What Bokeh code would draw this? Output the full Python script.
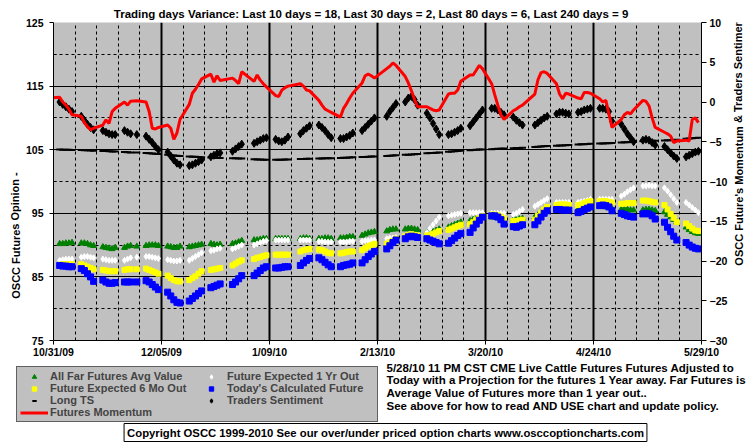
import pandas as pd
from bokeh.plotting import figure
from bokeh.layouts import column, row
from bokeh.models import (Range1d, LinearAxis, FixedTicker, Grid, Legend,
                          LegendItem, Label)
from bokeh.embed import file_html
from bokeh.resources import INLINE

FONT = "Liberation Sans"
NAN = float("nan")

title_text = ("Trading days Variance:  Last 10 days = 18,  Last 30 days = 2,  "
              "Last 80 days = 6,  Last 240 days = 9")
left_title = "OSCC Futures Opinion -"
right_title = "OSCC Future's Momentum & Traders Sentiment -"
note_lines = [
    "5/28/10 11 PM CST CME Live Cattle Futures  Futures Adjusted to",
    "Today with a Projection for the futures 1 Year away. Far Futures is",
    "Average Value of Futures more than 1 year out..",
    "See above for how to read AND USE chart and update policy.",
]
copyright_text = ("Copyright OSCC 1999-2010 See our over/under priced option charts "
                  "www.osccoptioncharts.com")

x_tick_labels = ["10/31/09", "12/05/09", "1/09/10", "2/13/10", "3/20/10", "4/24/10", "5/29/10"]
left_ticks = [75, 85, 95, 105, 115, 125]
left_minor = [80, 90, 100, 110, 120]
right_ticks = [-30, -25, -20, -15, -10, -5, 0, 5, 10]

first_day = "2009-10-30"
holidays = ["2009-11-26", "2009-12-25", "2010-01-01", "2010-01-18", "2010-02-15", "2010-04-02"]

# Futures Momentum (right axis), from 10/30/09
momentum = [0.5,
    0.6, 0.0, -0.4, -0.9, -1.6,
    -1.8, -2.6, -3.1, -3.5, -3.3,
    -2.9, -2.25, -2.7, -1.2, -0.8,
    0.0, -0.4, 0.1, 0.15,
    0.0, -1.2, -3.3, -3.4, -3.2,
    -2.9, -3.3, -4.7, -3.9, -2.2,
    -0.3, 1.1, 1.6, 2.2, 2.9,
    3.5, 2.5, 3.3, 2.7,
    3.0, 2.7, 2.3, 3.8,
    2.6, 3.4, 2.75, 2.3, 1.9,
    0.8, 0.7, 1.5, 1.8, 2.0,
    2.3, 2.0, 1.5, 1.4,
    0.2, -0.4, -0.9, -1.1, -1.3,
    -1.9, -0.8, -0.2, 0.5, 1.1,
    2.4, 3.3, 3.5, 3.3, 3.0,
    4.2, 4.5, 4.9, 4.6,
    3.2, 2.4, 1.4, 0.3, -0.6,
    -0.6, -0.8, -1.0, -1.1, -1.0,
    1.0, 1.1, 1.1, 1.5, 2.6,
    3.4, 3.4, 4.0, 4.6, 4.2,
    2.3, 0.9, -0.4, -1.6, -2.2,
    -1.1, -0.9, -0.6, -0.4,
    1.0, 2.8, 3.7, 3.8, 3.6,
    2.3, 1.0, 0.4, 1.1, 1.0,
    0.5, 0.4, 1.2, 1.2, 1.1,
    0.4, 0.0, 0.2, -1.5, -3.2,
    -2.2, -1.6, -1.3, -1.5, -1.0,
    0.2, 0.1, -0.5, -2.0, -3.2,
    -3.8, -4.0, -4.3, -5.1, -4.9,
    -4.8, -4.9, -2.2, -2.0, -2.6]

# Traders Sentiment (right axis), from 11/02/09
traders = [
    0.0, -0.3, -0.6, -0.9, -1.2,
    -1.8, -2.3, -2.8, -3.2, -3.5,
    -3.6, -3.8, -4.0, -4.1, -4.1,
    -3.6, -3.8, -4.0, -4.1,
    -4.3, -4.7, -5.1, -5.6, -6.0,
    -6.3, -6.8, -7.3, -7.7, -7.9,
    -8.0, -7.9, -7.7, -7.5, -7.3,
    -6.9, -6.7, -6.5, -6.4,
    -6.2, -5.9, -5.6, -5.3,
    -5.2, -5.0, -4.8, -4.6, -4.5,
    -4.7, -4.9, -5.0, -4.8, -4.4,
    -4.0, -3.6, -3.3, -3.0,
    -2.9, -3.2, -3.6, -4.1, -4.5,
    -4.6, -4.6, -4.4, -4.2, -3.9,
    -3.6, -3.2, -2.8, -2.4, -2.0,
    -1.8, -1.2, -0.7, -0.2,
    0.0, 0.5, 0.7, 0.3, -0.4,
    -1.4, -2.0, -2.7, -3.4, -4.1,
    -4.1, -4.0, -3.8, -3.6, -3.3,
    -3.0, -2.5, -2.0, -1.5, -1.0,
    -0.8, -0.8, -1.0, -1.3, -1.6,
    -1.9, -2.3, -2.6, -2.9,
    -2.9, -2.6, -2.3, -2.0, -1.8,
    -1.5, -1.3, -1.3, -1.4, -1.5,
    -1.3, -1.2, -1.0, -0.9, -0.8,
    -0.8, -0.8, -0.9, -1.2, -2.4,
    -2.8, -3.4, -4.0, -4.5, -5.0,
    -4.8, -4.7, -4.8, -5.1, -5.4,
    -5.6, -6.0, -6.4, -6.8, -7.1,
    -6.9, -6.7, -6.5, -6.3, -6.2]

# Long TS (right axis)
long_ts = [
    -5.98, -6.0, -6.0, -6.02, -6.03,
    -6.05, -6.07, -6.08, -6.1, -6.12,
    -6.15, -6.17, -6.2, -6.22, -6.24,
    -6.3, -6.32, -6.34, -6.36,
    -6.42, -6.45, -6.48, -6.5, -6.53,
    -6.65, -6.7, -6.73, -6.76, -6.8,
    -6.85, -6.88, -6.9, -6.92, -6.94,
    -6.97, -7.0, -7.02, -7.04,
    -7.06, -7.08, -7.1, -7.12,
    -7.2, -7.22, -7.24, -7.26, -7.27,
    -7.27, -7.26, -7.25, -7.24, -7.23,
    -7.18, -7.16, -7.15, -7.14,
    -7.12, -7.1, -7.09, -7.08, -7.06,
    -7.03, -7.01, -7.0, -6.98, -6.96,
    -6.93, -6.91, -6.89, -6.87, -6.85,
    -6.8, -6.77, -6.74, -6.71,
    -6.65, -6.62, -6.6, -6.57, -6.54,
    -6.46, -6.43, -6.4, -6.37, -6.34,
    -6.26, -6.23, -6.2, -6.17, -6.14,
    -6.06, -6.03, -6.0, -5.98, -5.96,
    -5.93, -5.91, -5.89, -5.87, -5.85,
    -5.82, -5.8, -5.78, -5.76,
    -5.66, -5.63, -5.6, -5.57, -5.54,
    -5.5, -5.48, -5.46, -5.44, -5.42,
    -5.34, -5.32, -5.3, -5.28, -5.26,
    -5.22, -5.21, -5.2, -5.19, -5.17,
    -5.09, -5.07, -5.05, -5.03, -5.01,
    -4.94, -4.92, -4.9, -4.88, -4.86,
    -4.83, -4.81, -4.8, -4.78, -4.76,
    -4.62, -4.58, -4.55, -4.52, -4.49]

# All Far Futures Avg Value (left axis)
far_avg = [
    90.2, 90.2, 90.3, 90.3, 90.4,
    90.3, 90.3, 90.2, 90.0, 89.9,
    89.7, 89.6, 89.5, 89.4, 89.6,
    89.6, 89.8, 89.9, 89.8,
    89.9, 90.0, 90.0, 90.0, 89.9,
    89.8, 89.7, 89.6, 89.6, 89.8,
    89.7, 89.8, 89.9, 90.0, 90.1,
    90.2, 90.1, 90.0, 90.1,
    90.2, 90.3, 90.5, 90.7,
    90.8, 90.8, 90.9, 91.0, 91.0,
    91.0, 91.0, 91.0, 91.0, 91.0,
    91.0, 91.1, 91.1, 91.0,
    91.0, 91.0, 91.1, 91.1, 91.0,
    91.1, 91.1, 91.2, 91.3, 91.3,
    91.5, 91.7, 91.9, 92.0, 92.1,
    92.2, 92.4, 92.5, 92.5,
    92.5, 92.6, 92.6, 92.5, 92.4,
    92.0, 92.0, 92.1, 92.3, 92.5,
    92.8, 93.0, 93.2, 93.4, 93.6,
    93.8, 94.0, 94.2, 94.3, 94.4,
    94.4, 94.4, 94.3, 94.2, 94.0,
    94.0, 94.0, 94.1, 94.2,
    94.4, 94.7, 95.0, 95.3, 95.5,
    95.6, 95.6, 95.6, 95.6, 95.6,
    95.6, 95.7, 95.8, 95.9, 96.0,
    96.1, 96.1, 96.0, 95.9, 95.7,
    95.6, 95.6, 95.6, 95.5, 95.5,
    95.5, 95.6, 95.6, 95.5, 95.4,
    95.2, 94.8, 94.4, 94.0, 93.6,
    92.8, 92.4, 92.1, 91.9, 91.8]

# Future Expected 1 Yr Out (left axis)
one_yr = [
    87.6, 87.7, 87.8, 87.8, 87.8,
    88.1, 88.2, 88.2, 88.1, 88.0,
    87.8, 87.7, 87.6, 87.6, 87.6,
    87.6, 87.8, 88.0, 88.1,
    88.2, 88.2, 88.1, 88.0, 87.9,
    87.7, 87.6, 87.5, 87.5, 87.6,
    87.6, 87.9, 88.2, 88.5, 88.8,
    89.1, 89.2, 89.4, 89.5,
    89.4, 89.6, 89.8, 90.0,
    90.0, 90.2, 90.4, 90.6, 90.7,
    90.8, 90.8, 90.8, 90.8, 90.8,
    90.8, 90.8, 90.8, 90.8,
    90.6, 90.6, 90.5, 90.5, 90.5,
    90.5, 90.5, 90.5, 90.6, 90.6,
    90.6, 90.7, 90.7, 90.8, 90.8,
    91.0, 91.1, 91.1, 91.2,
    91.2, 91.2, 91.3, 91.3, 91.3,
    92.0, 92.6, 93.2, 93.8, 94.4,
    94.6, 94.7, 94.8, 94.9, 95.0,
    95.1, 95.1, 95.1, 95.1, 95.1,
    95.0, 95.0, 95.0, 95.0, 95.0,
    94.8, 95.0, 95.3, 95.6,
    96.1, 96.4, 96.7, 97.0, 97.3,
    96.7, 96.7, 96.7, 96.7, 96.7,
    96.7, 96.8, 96.9, 97.0, 97.2,
    97.2, 97.2, 97.2, 97.2, 97.2,
    97.7, 98.0, 98.4, 98.7, 99.0,
    99.3, 99.3, 99.4, 99.3, 99.3,
    99.0, 98.5, 97.9, 97.3, 96.7,
    96.7, 96.3, 95.9, 95.5, 95.1]

# Future Expected 6 Mo Out (left axis)
six_mo = [
    86.9, 87.0, 87.0, 87.0, 87.0,
    87.0, 86.8, 86.6, 86.4, 86.2,
    86.1, 86.0, 85.9, 85.9, 85.9,
    86.1, 86.2, 86.2, 86.2,
    86.3, 86.1, 85.9, 85.7, 85.5,
    85.2, 84.8, 84.5, 84.3, 84.3,
    84.5, 84.8, 85.1, 85.5, 85.9,
    86.1, 86.2, 86.3, 86.4,
    86.8, 87.1, 87.4, 87.6,
    87.8, 88.0, 88.1, 88.3, 88.4,
    88.5, 88.5, 88.5, 88.5, 88.5,
    89.0, 89.2, 89.3, 89.4,
    89.3, 89.2, 89.0, 88.8, 88.7,
    88.7, 88.8, 88.9, 89.0, 89.0,
    89.2, 89.5, 89.8, 90.0, 90.2,
    90.2, 90.5, 90.7, 91.0,
    91.4, 91.6, 91.7, 91.6, 91.5,
    91.5, 91.6, 91.8, 92.0, 92.2,
    92.4, 92.6, 92.8, 93.0, 93.2,
    93.3, 93.6, 94.0, 94.3, 94.6,
    94.8, 94.8, 94.7, 94.5, 94.2,
    93.8, 93.8, 93.9, 94.0,
    94.0, 94.6, 95.1, 95.6, 96.0,
    96.3, 96.4, 96.4, 96.4, 96.3,
    96.3, 96.4, 96.6, 96.8, 96.9,
    96.9, 96.9, 96.9, 96.8, 96.7,
    96.5, 96.5, 96.6, 96.6, 96.6,
    97.0, 97.0, 96.9, 96.8, 96.7,
    96.3, 95.6, 94.9, 94.3, 93.6,
    93.4, 93.0, 92.6, 92.3, 92.2]

# Today's Calculated Future (left axis)
today_calc = [
    86.8, 86.7, 86.7, 86.6, 86.6,
    86.3, 86.0, 85.5, 85.0, 84.3,
    84.5, 84.2, 84.0, 84.0, 84.1,
    84.2, 84.2, 84.2, 84.2,
    84.4, 84.2, 83.8, 83.4, 83.0,
    82.6, 82.0, 81.4, 81.0, 80.9,
    81.2, 81.6, 82.0, 82.4, 82.8,
    83.3, 83.5, 83.7, 83.9,
    83.8, 84.2, 84.7, 85.2,
    85.2, 85.6, 86.0, 86.4, 86.6,
    86.4, 86.4, 86.5, 86.6, 86.6,
    86.8, 87.2, 87.6, 87.9,
    88.0, 87.7, 87.3, 86.9, 86.6,
    86.6, 86.8, 86.9, 87.0, 87.2,
    87.2, 87.7, 88.2, 88.6, 89.0,
    89.4, 89.9, 90.4, 90.8,
    91.0, 91.3, 91.4, 91.3, 91.2,
    91.0, 90.8, 90.6, 90.4, 90.2,
    90.3, 90.7, 91.1, 91.5, 91.8,
    92.0, 92.7, 93.3, 93.9, 94.4,
    94.6, 94.6, 94.4, 94.0, 93.3,
    92.9, 92.8, 93.0, 93.2,
    93.2, 93.8, 94.4, 95.0, 95.4,
    95.6, 95.6, 95.5, 95.5, 95.5,
    95.1, 95.3, 95.6, 95.8, 96.0,
    96.2, 96.3, 96.2, 96.0, 95.4,
    95.0, 94.8, 94.6, 94.5, 94.4,
    94.9, 95.0, 94.9, 94.6, 94.1,
    93.6, 92.8, 92.1, 91.4, 90.8,
    90.4, 90.0, 89.7, 89.5, 89.4]

# ---------------------------------------------------------------- dates
hol = set(pd.to_datetime(holidays))
session_days = [d for d in pd.bdate_range("2009-11-02", "2010-05-28") if d not in hol]
all_days = [pd.Timestamp(first_day)] + session_days


def pair(days, vals):
    n = min(len(days), len(vals))
    return list(days[:n]), list(vals[:n])


tick_dates = [pd.to_datetime(s, format="%m/%d/%y") for s in x_tick_labels]
to_ms = lambda d: d.value / 1e6
tick_ms = [to_ms(d) for d in tick_dates]
week_ms = [to_ms(d) for d in pd.date_range(tick_dates[0], tick_dates[-1], freq="7D")
           if to_ms(d) not in tick_ms]

STYLES = {
    "far": dict(marker="triangle", size=6, fill_color="#008000", line_color="#008000"),
    "1yr": dict(marker="diamond", size=6, fill_color="white", line_color="white"),
    "6mo": dict(marker="square", size=5, fill_color="#FFFF00", line_color="#FFFF00"),
    "today": dict(marker="square", size=6, fill_color="#0000FF", line_color="#0000FF"),
    "long": dict(marker="dash", size=7, line_color="black", line_width=2),
    "trad": dict(marker="diamond", size=8, fill_color="black", line_color="black"),
}
MOM_STYLE = dict(line_color="#FF0000", line_width=3)

TOTAL_W = 753
TOP_H = 360
FOOT_H = 84
LEFT_W = 22
RIGHT_W = 23
MAIN_W = TOTAL_W - LEFT_W - RIGHT_W

p = figure(width=MAIN_W, height=TOP_H, x_axis_type="datetime",
           output_backend="svg", toolbar_location=None,
           x_range=Range1d(tick_dates[0], tick_dates[-1]),
           y_range=Range1d(left_ticks[0], left_ticks[-1]),
           min_border_left=31, min_border_right=27,
           min_border_top=22, min_border_bottom=18,
           background_fill_color="#C0C0C0", border_fill_color="white",
           outline_line_color=None, title=title_text)
p.title.align = "center"
p.title.offset = -6
p.title.standoff = 6
p.title.text_font = FONT
p.title.text_font_style = "bold"
p.title.text_font_size = "11.5px"
p.title.text_color = "black"
p.extra_y_ranges = {"right": Range1d(right_ticks[0], right_ticks[-1])}
p.xgrid.visible = False
p.ygrid.visible = False

p.add_layout(Grid(dimension=0,
                  ticker=FixedTicker(ticks=tick_ms[1:-1], minor_ticks=week_ms),
                  grid_line_color="black", grid_line_width=2,
                  minor_grid_line_color="black", minor_grid_line_width=1,
                  minor_grid_line_dash="3 3"))
p.add_layout(Grid(dimension=1,
                  ticker=FixedTicker(ticks=left_ticks[1:-1], minor_ticks=left_minor),
                  grid_line_color="black", grid_line_width=1,
                  minor_grid_line_color="black", minor_grid_line_width=1,
                  minor_grid_line_dash="3 3"))


def style_axis(ax):
    ax.axis_line_color = "black"
    ax.axis_line_width = 1
    ax.major_tick_line_color = "black"
    ax.minor_tick_line_color = "black"
    ax.major_label_text_font = FONT
    ax.major_label_text_font_style = "bold"
    ax.major_label_text_font_size = "10.5px"
    ax.major_label_text_color = "black"
    ax.major_tick_in = 0


xa = p.xaxis[0]
xa.ticker = FixedTicker(ticks=tick_ms)
xa.major_label_overrides = {t: lab for t, lab in zip(tick_ms, x_tick_labels)}
style_axis(xa)
xa.major_tick_out = 4
xa.major_label_standoff = 1

ya = p.yaxis[0]
ya.ticker = FixedTicker(ticks=left_ticks, minor_ticks=left_minor)
style_axis(ya)
ya.major_tick_out = 4
ya.minor_tick_in = 3
ya.minor_tick_out = 0
ya.major_label_standoff = 6

ra = LinearAxis(y_range_name="right", ticker=FixedTicker(ticks=right_ticks))
style_axis(ra)
ra.major_tick_out = 5
ra.minor_tick_out = 0
ra.major_label_standoff = 3
p.add_layout(ra, "right")

x, y = pair(session_days, far_avg)
p.scatter(x, y, **STYLES["far"])
x, y = pair(session_days, one_yr)
p.scatter(x, y, **STYLES["1yr"])
x, y = pair(session_days, six_mo)
p.scatter(x, y, **STYLES["6mo"])
x, y = pair(session_days, today_calc)
p.scatter(x, y, **STYLES["today"])
x, y = pair(session_days, long_ts)
p.scatter(x, y, y_range_name="right", **STYLES["long"])
x, y = pair(session_days, traders)
p.scatter(x, y, y_range_name="right", **STYLES["trad"])
x, y = pair(all_days, momentum)
p.line(x, y, y_range_name="right", **MOM_STYLE)


def blank(w, h):
    f = figure(width=w, height=h, x_range=Range1d(0, w), y_range=Range1d(0, h),
               min_border=0, toolbar_location=None, output_backend="svg",
               outline_line_color=None, x_axis_location=None, y_axis_location=None,
               background_fill_color="white", border_fill_color="white")
    f.grid.visible = False
    return f


def txt(text, x, y, angle=0.0, align="center", size="11px", **kw):
    return Label(x=x, y=y, x_units="screen", y_units="screen", text=text, angle=angle,
                 text_align=align, text_baseline="middle", text_font=FONT,
                 text_font_style="bold", text_font_size=size, text_color="black", **kw)


lf = blank(LEFT_W, TOP_H)
lf.add_layout(txt(left_title, 15, 105, angle=1.5708))
rf = blank(RIGHT_W, TOP_H)
rf.add_layout(txt(right_title, 8, 203, angle=1.5708))

foot = blank(TOTAL_W, FOOT_H)
# legend keys: the legend needs glyphs in its own plot; they hold no drawable point
keys = {k: foot.scatter(x=[NAN], y=[NAN], **s) for k, s in STYLES.items()}
keys["mom"] = foot.line(x=[NAN, NAN], y=[NAN, NAN], **MOM_STYLE)
legend = Legend(items=[
    LegendItem(label="All Far Futures Avg Value", renderers=[keys["far"]]),
    LegendItem(label="Future Expected 1 Yr Out", renderers=[keys["1yr"]]),
    LegendItem(label="Future Expected 6 Mo Out", renderers=[keys["6mo"]]),
    LegendItem(label="Today's Calculated Future", renderers=[keys["today"]]),
    LegendItem(label="Long TS", renderers=[keys["long"]]),
    LegendItem(label="Traders Sentiment", renderers=[keys["trad"]]),
    LegendItem(label="Futures Momentum", renderers=[keys["mom"]]),
], orientation="horizontal", ncols=2, location=(16, 22),
    background_fill_color="#C0C0C0", background_fill_alpha=1.0,
    border_line_color="black", border_line_width=1,
    label_text_font=FONT, label_text_font_style="bold", label_text_font_size="11px",
    glyph_width=28, glyph_height=11, label_height=11, label_width=147,
    spacing=0, padding=3, margin=0, label_standoff=2)
foot.add_layout(legend)
for i, line in enumerate(note_lines):
    foot.add_layout(txt(line, 386, 77 - 12.7 * i, align="left", size="11.5px"))
foot.add_layout(txt(copyright_text, 385, 12, size="11.3px", border_line_color="black",
                    background_fill_color="white", padding=3))

layout = column(row(lf, p, rf), foot)
open("out.html", "w").write(file_html(layout, INLINE))
